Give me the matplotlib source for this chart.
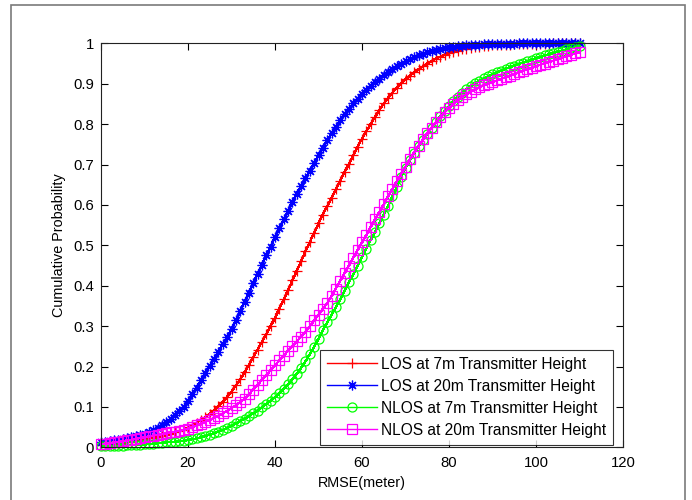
import numpy as np
import matplotlib
matplotlib.use("Agg")
import matplotlib.pyplot as plt
from matplotlib.patches import Rectangle

# RMSE grid (meters) at which each empirical CDF is sampled
rmse = np.arange(0, 111, 1)

los_7m = [
    0.005, 0.006, 0.007, 0.008, 0.009, 0.010, 0.012, 0.014, 0.016, 0.018, 0.020,
    0.022, 0.024, 0.026, 0.028, 0.031, 0.034, 0.037, 0.040, 0.044, 0.049,
    0.055, 0.061, 0.068, 0.075, 0.083, 0.092, 0.102, 0.113, 0.125, 0.138,
    0.153, 0.168, 0.186, 0.204, 0.223, 0.242, 0.261, 0.280, 0.300, 0.321,
    0.343, 0.366, 0.389, 0.413, 0.437, 0.461, 0.485, 0.508, 0.531, 0.554,
    0.576, 0.597, 0.617, 0.639, 0.660, 0.681, 0.702, 0.723, 0.744, 0.764,
    0.782, 0.800, 0.818, 0.835, 0.851, 0.865, 0.878, 0.890, 0.901, 0.911,
    0.920, 0.928, 0.936, 0.943, 0.950, 0.956, 0.962, 0.967, 0.972, 0.976,
    0.979, 0.982, 0.985, 0.987, 0.989, 0.991, 0.992, 0.993, 0.994, 0.995,
    0.996, 0.996, 0.997, 0.997, 0.998, 0.998, 0.998, 0.999, 0.999, 0.999,
    0.999, 0.999, 0.999, 1.000, 1.000, 1.000, 1.000, 1.000, 1.000, 1.000,
]

los_20m = [
    0.013, 0.014, 0.015, 0.017, 0.018, 0.020, 0.022, 0.025, 0.028, 0.031, 0.034,
    0.038, 0.043, 0.049, 0.055, 0.062, 0.070, 0.079, 0.089, 0.100, 0.115,
    0.131, 0.148, 0.166, 0.184, 0.202, 0.219, 0.237, 0.255, 0.273, 0.292,
    0.314, 0.337, 0.360, 0.383, 0.406, 0.429, 0.452, 0.475, 0.497, 0.520,
    0.542, 0.564, 0.586, 0.608, 0.628, 0.647, 0.666, 0.685, 0.704, 0.723,
    0.742, 0.760, 0.777, 0.793, 0.809, 0.824, 0.838, 0.851, 0.863, 0.874,
    0.884, 0.894, 0.903, 0.912, 0.921, 0.929, 0.937, 0.944, 0.950, 0.956,
    0.961, 0.966, 0.970, 0.974, 0.978, 0.981, 0.984, 0.986, 0.988, 0.990,
    0.992, 0.993, 0.994, 0.995, 0.996, 0.997, 0.997, 0.998, 0.998, 0.999,
    0.999, 0.999, 0.999, 0.999, 0.999, 1.000, 1.000, 1.000, 1.000, 1.000,
    1.000, 1.000, 1.000, 1.000, 1.000, 1.000, 1.000, 1.000, 1.000, 1.000,
]

nlos_7m = [
    0.002, 0.002, 0.003, 0.003, 0.004, 0.004, 0.005, 0.005, 0.006, 0.006, 0.007,
    0.008, 0.009, 0.010, 0.011, 0.012, 0.013, 0.014, 0.015, 0.016, 0.018,
    0.020, 0.022, 0.025, 0.028, 0.031, 0.035, 0.039, 0.043, 0.048, 0.053,
    0.059, 0.065, 0.071, 0.077, 0.084, 0.091, 0.099, 0.107, 0.115, 0.124,
    0.134, 0.145, 0.156, 0.168, 0.182, 0.197, 0.213, 0.230, 0.249, 0.269,
    0.290, 0.309, 0.328, 0.347, 0.366, 0.387, 0.408, 0.429, 0.450, 0.471,
    0.492, 0.513, 0.534, 0.555, 0.575, 0.598, 0.621, 0.645, 0.669, 0.691,
    0.710, 0.728, 0.745, 0.761, 0.776, 0.791, 0.805, 0.819, 0.832, 0.845,
    0.856, 0.867, 0.877, 0.886, 0.894, 0.901, 0.907, 0.913, 0.918, 0.923,
    0.928, 0.932, 0.937, 0.941, 0.945, 0.949, 0.952, 0.956, 0.959, 0.963,
    0.966, 0.970, 0.973, 0.976, 0.979, 0.982, 0.985, 0.988, 0.990, 0.993,
]

nlos_20m = [
    0.008, 0.009, 0.010, 0.012, 0.013, 0.015, 0.017, 0.019, 0.021, 0.023, 0.025,
    0.027, 0.029, 0.031, 0.033, 0.035, 0.037, 0.039, 0.041, 0.043, 0.046,
    0.050, 0.054, 0.058, 0.063, 0.068, 0.073, 0.078, 0.084, 0.090, 0.097,
    0.104, 0.112, 0.120, 0.131, 0.143, 0.155, 0.167, 0.179, 0.191, 0.203,
    0.215, 0.227, 0.239, 0.251, 0.262, 0.274, 0.286, 0.300, 0.314, 0.328,
    0.343, 0.357, 0.374, 0.393, 0.412, 0.431, 0.450, 0.469, 0.488, 0.507,
    0.526, 0.545, 0.564, 0.583, 0.602, 0.621, 0.640, 0.659, 0.677, 0.695,
    0.713, 0.730, 0.746, 0.762, 0.777, 0.791, 0.804, 0.817, 0.829, 0.840,
    0.850, 0.859, 0.867, 0.874, 0.880, 0.886, 0.891, 0.896, 0.900, 0.904,
    0.908, 0.912, 0.916, 0.920, 0.924, 0.928, 0.932, 0.936, 0.939, 0.943,
    0.947, 0.950, 0.954, 0.957, 0.961, 0.964, 0.968, 0.971, 0.975, 0.978,
]

series_labels = [
    "LOS at 7m Transmitter Height",
    "LOS at 20m Transmitter Height",
    "NLOS at 7m Transmitter Height",
    "NLOS at 20m Transmitter Height",
]
x_ticks = [0, 20, 40, 60, 80, 100, 120]
y_ticks = [0, 0.1, 0.2, 0.3, 0.4, 0.5, 0.6, 0.7, 0.8, 0.9, 1]
y_tick_labels = ["0", "0.1", "0.2", "0.3", "0.4", "0.5", "0.6", "0.7", "0.8", "0.9", "1"]

plt.rcParams["font.family"] = ["Liberation Sans", "DejaVu Sans"]
plt.rcParams["font.size"] = 10

fig = plt.figure(figsize=(6.92, 5.00), dpi=100)
fig.patch.set_facecolor("white")
ax = fig.add_axes([101 / 692, 1 - 447.3 / 500, (623 - 101) / 692, (447.3 - 43.3) / 500])

# MATLAB-like line specs: 'r-+', 'b-*', 'g-o', 'm-s'
styles = [
    dict(color="#ff0000", marker="+", markersize=7.5, open_face=False),
    dict(color="#0000ff", marker=(8, 2, 0), markersize=7, open_face=False),
    dict(color="#00ff00", marker="o", markersize=6.5, open_face=True),
    dict(color="#ff00ff", marker="s", markersize=7.5, open_face=True),
]
for values, label, st in zip([los_7m, los_20m, nlos_7m, nlos_20m], series_labels, styles):
    kw = dict(linestyle="-", linewidth=1.0, color=st["color"],
              marker=st["marker"], markersize=st["markersize"],
              markeredgecolor=st["color"], markeredgewidth=0.9,
              label=label, clip_on=False, antialiased=False)
    if st["open_face"]:
        kw["markerfacecolor"] = "none"
    ax.plot(rmse, values, **kw)

ax.set_xlim(0, 120)
ax.set_ylim(0, 1)
ax.set_xticks(x_ticks)
ax.set_yticks(y_ticks)
ax.set_yticklabels(y_tick_labels)
ax.tick_params(direction="in", top=True, right=True, length=5, width=0.8,
               colors="black", labelsize=10.7, pad=5)
ax.tick_params(axis="x", pad=6.5)
for sp in ax.spines.values():
    sp.set_linewidth(0.8)
    sp.set_color("#222222")

ax.set_xlabel("RMSE(meter)", fontsize=10.4, labelpad=4)
ax.set_ylabel("Cumulative Probability", fontsize=10.4, labelpad=5)

leg = ax.legend(loc="lower right", bbox_to_anchor=(0.981, 0.006), frameon=True,
                fancybox=False, borderaxespad=0.0, handlelength=3.2,
                handletextpad=0.25, labelspacing=0.45, borderpad=0.45,
                fontsize=11.2)
leg.get_frame().set_edgecolor("black")
leg.get_frame().set_linewidth(0.8)

# window-style border around the figure
fig.patches.append(Rectangle((11 / 692, -0.05), (685 - 11) / 692, 1.05 - 5.5 / 500,
                             transform=fig.transFigure, fill=False,
                             edgecolor="#7a7a7a", linewidth=1.2))

fig.savefig("out.png", dpi=100)
